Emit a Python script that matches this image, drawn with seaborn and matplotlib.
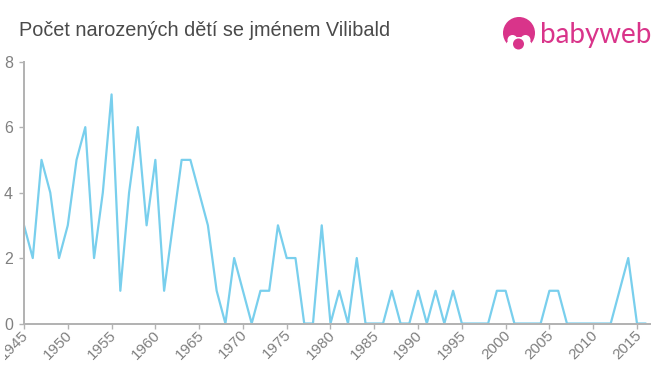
import matplotlib
matplotlib.use("Agg")
import matplotlib.pyplot as plt
from matplotlib.patches import Circle, Ellipse
from matplotlib.transforms import Bbox, ScaledTranslation
import seaborn as sns
import pandas as pd

years = list(range(1945, 2017))
counts = [3, 2, 5, 4, 2, 3, 5, 6, 2, 4, 7, 1, 4, 6, 3, 5, 1, 3, 5, 5,
          4, 3, 1, 0, 2, 1, 0, 1, 1, 3, 2, 2, 0, 0, 3, 0, 1, 0, 2, 0,
          0, 0, 1, 0, 0, 1, 0, 1, 0, 1, 0, 0, 0, 0, 1, 1, 0, 0, 0, 0,
          1, 1, 0, 0, 0, 0, 0, 0, 1, 2, 0, 0]
xticks = list(range(1945, 2016, 5))
yticks = [0, 2, 4, 6, 8]
title = "Počet narozených dětí se jménem Vilibald"
brand = "babyweb"

GREY = "#b3b3b3"
TEXT = "#808080"
PINK = "#d9348a"
LINE = "#79cfed"

sns.set_theme(style="white")
plt.rcParams["font.family"] = ["Liberation Sans", "DejaVu Sans"]

W, H = 660, 375
fig = plt.figure(figsize=(W / 100, H / 100), dpi=100)
ax = fig.add_axes([24 / W, 1 - 323.5 / H, (650 - 24) / W, (323.5 - 61.7) / H])
df = pd.DataFrame({"year": years, "count": counts})
sns.lineplot(data=df, x="year", y="count", ax=ax, color=LINE, linewidth=1.6,
             errorbar=None, zorder=1)
ax.set_xlim(1945, 1945 + (650 - 24) / 8.757)
ax.set_ylim(0, 8)
ax.set_xlabel("")
ax.set_ylabel("")
ax.set_xticks(xticks)
ax.set_yticks(yticks)
ax.set_xticklabels([str(y) for y in xticks], rotation=45, ha="right", va="center",
                   rotation_mode="anchor", fontsize=11, color=TEXT)
ax.set_yticklabels([str(y) for y in yticks], fontsize=11.5, color=TEXT)
ax.tick_params(axis="both", length=3.6, width=1, color=GREY, bottom=True, left=True)
ax.tick_params(axis="x", pad=3)
ax.tick_params(axis="y", pad=4.3)
for s in ("top", "right"):
    ax.spines[s].set_visible(False)
for s in ("left", "bottom"):
    ax.spines[s].set_color(GREY)
    ax.spines[s].set_linewidth(1.44)
ax.patch.set_alpha(0)

# year labels sit slightly right of their ticks
nudge = ScaledTranslation(2.5 / 100, 0, fig.dpi_scale_trans)
for lab in ax.get_xticklabels():
    lab.set_transform(lab.get_transform() + nudge)

# the first year label is cut off near the left edge in the reference
first = ax.get_xticklabels()[0]
first.set_clip_box(Bbox.from_extents(5, 0, W, H))
first.set_clip_on(True)

fig.text(19 / W, 1 - 31 / H, title, fontsize=14.3, color="#4a4a4a", va="center", ha="left")
fig.text(540 / W, 1 - 34.5 / H, brand, fontsize=20, color=PINK, va="center", ha="left",
         family=["Lato", "DejaVu Sans"])

# logo, in pixel coordinates of the figure
logo = fig.add_axes([0, 0, 1, 1], facecolor="none")
logo.set_xlim(0, W)
logo.set_ylim(H, 0)
logo.axis("off")
logo.add_patch(Circle((519, 33), 16, fc=PINK, ec="none"))
logo.add_patch(Ellipse((519, 47), 27, 20, fc="white", ec="none"))
logo.add_patch(Circle((512.5, 40), 5, fc="white", ec="none"))
logo.add_patch(Circle((525.5, 40), 5, fc="white", ec="none"))
logo.add_patch(Circle((518.5, 44), 5.5, fc=PINK, ec="none"))

fig.savefig("out.png", dpi=100)
